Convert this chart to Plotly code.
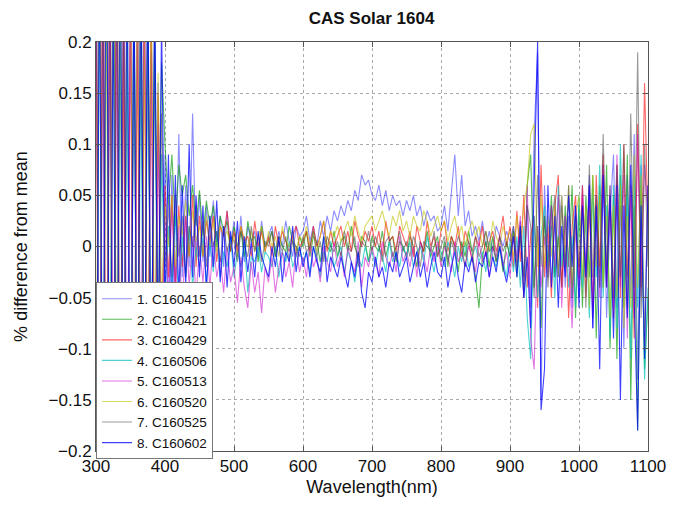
import plotly.graph_objects as go

# wavelength grid (nm)
wavelength = list(range(300, 1101, 5))

names = ["1. C160415", "2. C160421", "3. C160429", "4. C160506",
         "5. C160513", "6. C160520", "7. C160525", "8. C160602"]

# values in thousandths of a percent
c160415 = [350,-300,280,-400,320,-250,300,-350,260,-220,
           260,-240,300,-220,250,-200,230,-150,160,-120,
           90,-60,70,-40,110,-30,60,-20,130,-10,
           50,-15,40,-10,45,5,30,-20,35,0,
           25,-10,30,-15,20,5,15,-10,25,0,
           10,20,-5,15,0,25,5,-10,20,10,
           15,30,5,20,0,25,10,30,15,35,
           25,40,30,45,35,55,45,70,60,65,
           50,45,60,40,55,35,50,40,45,30,
           45,35,50,30,40,20,35,25,30,15,
           20,40,15,55,90,30,70,20,35,10,
           20,5,25,0,15,-5,20,10,0,15,
           5,20,-10,25,-30,40,-60,110,190,-150,
           60,-20,40,-30,10,50,-40,30,-60,40,
           -50,60,-30,70,-80,50,-40,80,-70,30,
           90,-60,40,-100,70,-50,110,-130,80,-90,
           60]
c160421 = [-300,350,-250,300,-280,380,-200,250,-320,300,
           -280,250,-230,300,-200,260,-180,220,-100,180,
           100,40,90,20,80,50,70,30,60,20,
           55,10,45,20,40,0,30,15,25,-5,
           20,0,15,-10,25,5,10,-15,20,0,
           5,15,-10,10,0,-5,20,5,-10,10,
           0,15,-10,10,5,-15,10,0,-5,15,
           -10,5,10,-5,20,0,-10,10,5,-15,
           10,0,-5,15,-10,5,10,-15,5,0,
           -10,10,0,-20,5,-5,15,-10,0,10,
           -15,5,-20,10,0,-25,5,-10,15,-5,
           -30,-60,-10,5,-20,10,-15,0,-25,5,
           -10,15,-30,20,-50,60,90,-40,20,-80,
           30,-20,50,-30,10,-40,40,-20,60,-70,
           40,-60,50,-30,70,-90,60,-40,80,-100,
           50,-110,70,-60,90,-150,40,-180,60,-120,
           -50]
c160429 = [250,-350,400,-280,300,-250,380,-300,200,-350,
           300,-260,220,-300,260,-180,240,-200,150,-110,
           60,-30,50,-40,40,-20,30,-10,50,-20,
           30,-10,25,5,30,-15,20,10,35,-5,
           15,-5,20,5,10,-10,25,0,15,-5,
           10,-10,20,0,15,5,-5,10,20,0,
           5,15,-5,20,0,10,25,-5,15,0,
           10,20,0,15,-5,25,10,0,15,5,
           20,0,15,-10,25,5,10,-5,20,10,
           0,15,-10,20,5,-5,25,0,10,-10,
           15,25,-5,10,0,20,-10,15,5,-15,
           10,0,20,-10,5,15,-5,10,30,0,
           20,-20,35,-15,50,-40,10,30,-60,80,
           -30,20,-50,40,70,-40,30,-70,20,50,
           -30,60,-50,40,-60,70,-20,90,-40,50,
           -70,80,-50,100,-30,60,-90,120,-40,160,
           20]
c160506 = [-380,280,-300,330,-220,260,-350,300,-280,220,
           -250,280,-300,200,-260,230,-150,210,-160,90,
           -50,20,-40,30,-60,10,-30,20,-40,0,
           -20,10,-35,5,-25,15,-30,-5,-20,10,
           -30,-5,-20,5,-45,-10,-15,0,-25,-5,
           -10,-20,0,-30,-5,-15,5,-20,-10,0,
           -15,-5,-25,0,-10,-30,-5,-15,5,-20,
           -10,0,-25,-5,-15,-35,-10,-20,0,-15,
           -5,-20,0,-10,-25,5,-15,-5,-20,0,
           -10,5,-20,-5,0,-15,10,-10,-25,0,
           -5,-20,5,-10,-30,0,-15,5,-20,-10,
           0,-15,-5,-25,5,-10,-20,0,-15,-30,
           5,-25,10,-40,20,-70,-110,30,-50,10,
           40,-30,20,-50,60,-20,30,-40,10,-60,
           50,-40,30,-70,60,-30,80,-50,40,-90,
           60,-80,100,-40,50,-110,70,-60,90,-130,
           -40]
c160513 = [300,-320,260,-400,350,-300,220,-280,330,-240,
           230,-300,260,-200,280,-220,190,-250,120,-140,
           30,-60,40,-50,20,-70,30,-40,10,-50,
           0,-35,10,-40,5,-30,-10,-45,0,-35,
           -20,-55,-10,-40,-60,-15,-45,-25,-65,-20,
           -35,-10,-45,-20,-5,-30,-15,-40,0,-25,
           -10,-30,5,-20,-10,-35,0,-15,-25,5,
           -20,-5,-30,0,-15,-25,5,-40,-10,-20,
           0,-15,-30,5,-10,-20,-5,-25,10,-15,
           -5,-20,0,-30,5,-10,-25,0,-15,5,
           -20,0,-10,-25,5,-15,-5,-20,0,-10,
           -25,5,-15,-5,-30,0,-10,10,-20,-5,
           -30,10,-15,30,-50,60,-90,-120,20,-40,
           10,-30,40,-20,50,-60,30,-10,-80,20,
           -40,50,-20,60,-70,30,-50,80,-30,60,
           -60,90,-40,70,-90,50,-70,110,-50,80,
           30]
c160520 = [-250,380,-300,260,-330,300,-200,350,-260,280,
           250,-210,300,-240,200,-180,260,-120,170,-60,
           40,0,50,-20,30,10,45,-10,35,5,
           20,-10,30,0,25,-5,20,10,15,0,
           10,-10,20,5,0,15,-5,10,20,-5,
           15,0,10,-10,20,5,0,15,-5,10,
           5,20,0,15,-5,10,25,0,15,10,
           20,5,15,25,10,30,15,5,20,25,
           30,15,25,35,20,10,30,20,35,15,
           25,10,30,20,15,35,25,10,20,30,
           15,25,5,20,30,10,20,0,15,25,
           10,20,0,15,-5,25,10,0,20,5,
           15,-10,30,0,40,60,110,120,-20,50,
           -20,30,-10,40,-30,50,-20,60,-40,30,
           50,-30,40,-60,70,-20,50,-40,30,-70,
           40,-50,60,-80,30,-60,90,-40,70,-100,
           50]
c160525 = [330,-280,300,-350,260,-380,320,-220,280,-300,
           -220,260,-250,280,-190,240,-170,200,-110,130,
           -20,40,-30,50,-10,30,-30,20,0,40,
           -10,25,-20,30,0,15,-15,20,-5,10,
           5,-15,15,0,-10,20,-5,10,-15,5,
           0,15,-10,5,-5,10,-15,5,0,-10,
           10,-5,0,15,-10,5,-15,10,0,-5,
           5,-10,15,0,-5,10,-20,5,0,15,
           -5,10,0,-15,5,10,-10,0,15,-5,
           5,-10,10,0,-20,5,0,-5,15,-10,
           0,10,-15,5,-5,10,0,-20,5,-5,
           10,-10,0,15,-5,0,-15,10,-5,5,
           -10,20,-20,10,-30,40,20,-50,70,-20,
           30,-40,20,50,-30,40,-20,60,-50,30,
           -20,40,-60,80,-30,50,-40,110,-20,60,
           -50,80,-30,100,-60,130,-40,190,-70,100,
           -20]
c160602 = [-350,300,-280,400,-330,260,-300,350,-250,300,
           -300,280,-250,320,-220,290,-200,260,-130,220,
           -60,90,-80,70,-50,60,-40,100,-30,50,
           -30,40,-45,30,-20,45,-35,20,-40,15,
           -20,25,-35,10,-25,5,-30,15,-10,-20,
           -30,0,-20,10,-35,-5,-15,20,-25,0,
           -20,-5,-30,0,-15,-25,10,-35,-10,-20,
           -30,-10,-25,-40,-15,-30,-5,-45,-60,-25,
           -35,-10,-30,-20,-40,-15,-25,-5,-30,-20,
           -10,-35,-20,-5,-30,-15,-40,-20,-5,-25,
           -30,-10,-40,-20,-5,-30,-45,-15,-25,-10,
           -35,-15,-20,-5,-30,-10,-25,0,-20,-35,
           -15,10,-30,20,-50,-10,-80,70,200,-160,
           -120,60,-40,30,-60,20,-30,50,-20,40,
           -60,40,-30,60,-80,40,-120,70,-40,50,
           -90,60,-150,40,-70,80,-60,-180,40,-110,
           60]

series = [c160415, c160421, c160429, c160506, c160513, c160520, c160525, c160602]
colors = ["rgba(0,0,255,0.45)", "rgba(0,150,0,0.65)", "rgba(255,0,0,0.6)",
          "rgba(0,191,191,0.7)", "rgba(200,0,200,0.55)", "rgba(191,191,0,0.6)",
          "rgba(70,70,70,0.55)", "rgba(0,0,255,0.75)"]

fig = go.Figure()
for name, vals, col in zip(names, series, colors):
    fig.add_trace(go.Scatter(x=wavelength, y=[v / 1000 for v in vals], mode="lines",
                             name=name, line=dict(color=col, width=1.1)))

axis_common = dict(showline=True, linecolor="#555", linewidth=1, mirror="ticks",
                   ticks="inside", ticklen=5, tickcolor="#555",
                   showgrid=True, gridcolor="#aaa", griddash="dot", gridwidth=1,
                   zeroline=False, tickfont=dict(size=17, color="#111"))

fig.update_layout(
    width=678, height=505,
    margin=dict(l=96, r=24, t=42, b=52),
    paper_bgcolor="white", plot_bgcolor="white",
    font=dict(family="Liberation Sans, Arial, sans-serif", color="#111"),
    title=dict(text="<b>CAS Solar 1604</b>", x=0.548, xanchor="center", y=0.965,
               yanchor="middle", font=dict(size=17)),
    xaxis=dict(range=[300, 1100], dtick=100,
               title=dict(text="Wavelength(nm)", font=dict(size=18), standoff=4),
               **axis_common),
    yaxis=dict(range=[-0.2, 0.2], dtick=0.05,
               title=dict(text="% difference from mean", font=dict(size=18), standoff=16),
               **axis_common),
    legend=dict(x=0.0, y=0.412, xanchor="left", yanchor="top",
                bgcolor="white", bordercolor="#777", borderwidth=1,
                font=dict(size=13.5, color="#111"), tracegroupgap=0),
    showlegend=True,
)

fig.write_html("out.html")
